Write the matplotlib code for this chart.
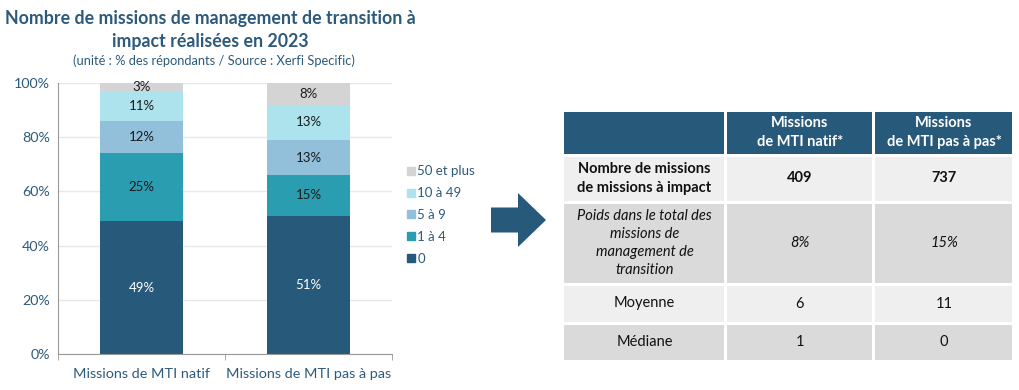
import matplotlib.pyplot as plt
import numpy as np
from matplotlib.patches import Rectangle, FancyArrow
from matplotlib.lines import Line2D

plt.rcParams['font.family'] = ['Lato', 'DejaVu Sans']

# ---- data ----
categories = ['Missions de MTI natif', 'Missions de MTI pas à pas']
series = ['0', '1 à 4', '5 à 9', '10 à 49', '50 et plus']
values = {
    '0': [49, 51],
    '1 à 4': [25, 15],
    '5 à 9': [12, 13],
    '10 à 49': [11, 13],
    '50 et plus': [3, 8],
}
colors = ['#27597A', '#2A9DB0', '#92BFDA', '#ADE3EC', '#D4D4D4']
label_colors = ['white', '#1a1a1a', '#1a1a1a', '#1a1a1a', '#1a1a1a']

table_header = ['', 'Missions\nde MTI natif*', 'Missions\nde MTI pas à pas*']
table_rows = [
    ['Nombre de missions\nde missions à impact', '409', '737'],
    ['Poids dans le total des\nmissions de\nmanagement de\ntransition', '8%', '15%'],
    ['Moyenne', '6', '11'],
    ['Médiane', '1', '0'],
]

title_col = '#2D5A7B'
W, H = 1020, 390

fig = plt.figure(figsize=(10.2, 3.9), dpi=100)

# ---- stacked bar chart ----
ax = fig.add_axes([58 / W, (H - 354) / H, (392 - 58) / W, (354 - 83) / H])
x = np.arange(len(categories))
bottom = np.zeros(len(categories))
for s, c, lc in zip(series, colors, label_colors):
    v = np.array(values[s], dtype=float)
    ax.bar(x, v, 0.5, bottom=bottom, color=c, zorder=2)
    for xi, vi, bi in zip(x, v, bottom):
        ax.text(xi, bi + vi / 2, f'{vi:.0f}%', ha='center', va='center',
                fontsize=9.5, color=lc, zorder=3)
    bottom += v

ax.set_xlim(-0.5, 1.5)
ax.set_ylim(0, 100)
ax.set_yticks(np.arange(0, 101, 20))
ax.set_yticklabels([f'{t}%' for t in range(0, 101, 20)])
ax.set_xticks(x)
ax.set_xticklabels(categories)
ax.set_xticks([-0.5, 0.5, 1.5], minor=True)
ax.tick_params(axis='x', which='major', length=0, pad=10, labelsize=10.4, labelcolor=title_col)
ax.tick_params(axis='x', which='minor', length=4, color='#999999')
ax.tick_params(axis='y', length=0, pad=6, labelsize=10.3, labelcolor=title_col)
ax.grid(axis='y', color='#E8E8E8', linewidth=1, zorder=0)
ax.set_axisbelow(True)
for sp in ['top', 'right']:
    ax.spines[sp].set_visible(False)
for sp in ['left', 'bottom']:
    ax.spines[sp].set_color('#999999')

handles = [Line2D([], [], marker='s', linestyle='', markersize=6, color=c)
           for c in colors[::-1]]
fig.legend(handles, series[::-1], loc='upper left',
           bbox_to_anchor=(400 / W, (H - 160) / H), frameon=False,
           handletextpad=0.1, labelspacing=0.75, handlelength=0.8,
           fontsize=9.5, labelcolor=title_col, borderaxespad=0)

# titles
fig.text(210 / W, (H - 30) / H, 'Nombre de missions de management de transition à\nimpact réalisées en 2023',
         ha='center', va='center', fontsize=12.8, fontweight='bold', color=title_col,
         linespacing=1.45)
fig.text(214 / W, (H - 61) / H, '(unité : % des répondants / Source : Xerfi Specific)',
         ha='center', va='center', fontsize=9.3, color=title_col)

# ---- overlay in pixel coordinates: arrow + table ----
ov = fig.add_axes([0, 0, 1, 1])
ov.set_xlim(0, W)
ov.set_ylim(H, 0)
ov.axis('off')

ov.add_patch(FancyArrow(491, 220, 27, 0, width=25, head_width=54, head_length=28,
                        length_includes_head=False, color='#27597A', lw=0))

col_x = [563, 726, 874, 1014]
row_y = [110, 155, 202, 284, 323, 361]
gap = 1.5
fills = ['#27597A', '#EFEFEF', '#DADADA', '#EFEFEF', '#DADADA']
all_rows = [table_header] + table_rows
for r, row in enumerate(all_rows):
    y0, y1 = row_y[r], row_y[r + 1]
    for ci, txt in enumerate(row):
        x0, x1 = col_x[ci], col_x[ci + 1]
        ov.add_patch(Rectangle((x0 + gap, y0 + gap), x1 - x0 - 2 * gap, y1 - y0 - 2 * gap,
                               facecolor=fills[r], edgecolor='none'))
        if not txt:
            continue
        if r == 0:
            weight, style, col = 'bold', 'normal', 'white'
        elif r == 1:
            weight, style, col = 'bold', 'normal', '#111111'
        elif r == 2:
            weight, style, col = 'normal', 'italic', '#111111'
        else:
            weight, style, col = 'normal', 'normal', '#111111'
        ov.text((x0 + x1) / 2, (y0 + y1) / 2, txt, ha='center', va='center',
                fontsize=10.5, fontweight=weight, fontstyle=style, color=col,
                linespacing=1.38)

fig.savefig('out.png', dpi=100)
